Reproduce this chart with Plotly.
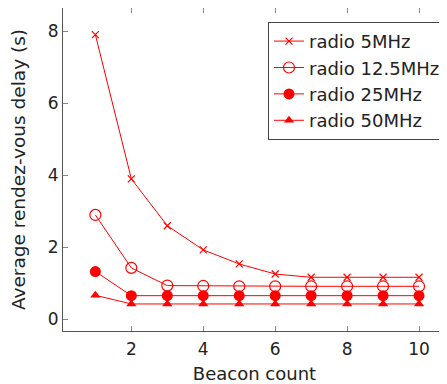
import plotly.graph_objects as go

beacon = [1, 2, 3, 4, 5, 6, 7, 8, 9, 10]
radio_5 = [7.9, 3.9, 2.6, 1.93, 1.54, 1.26, 1.17, 1.17, 1.17, 1.17]
radio_12_5 = [2.9, 1.43, 0.94, 0.93, 0.92, 0.92, 0.92, 0.92, 0.92, 0.92]
radio_25 = [1.33, 0.66, 0.66, 0.66, 0.66, 0.66, 0.66, 0.66, 0.66, 0.66]
radio_50 = [0.67, 0.43, 0.43, 0.43, 0.43, 0.43, 0.43, 0.43, 0.43, 0.43]
names = ["radio 5MHz", "radio 12.5MHz", "radio 25MHz", "radio 50MHz"]
x_ticks = [2, 4, 6, 8, 10]
y_ticks = [0, 2, 4, 6, 8]

RED = "#ff0000"
FONT = "DejaVu Sans"
TXT = "#222222"

fig = go.Figure()
series = [radio_5, radio_12_5, radio_25, radio_50]
markers = [
    dict(symbol="x-thin", size=7, line=dict(color=RED, width=1.2)),
    dict(symbol="circle-open", size=11, line=dict(color=RED, width=1.2)),
    dict(symbol="circle", size=11, color=RED),
    dict(symbol="triangle-up", size=9, color=RED),
]
for name, ys, mk in zip(names, series, markers):
    mk = dict(mk)
    mk.setdefault("color", RED)
    fig.add_trace(go.Scatter(x=beacon, y=ys, name=name, mode="lines+markers",
                             line=dict(color=RED, width=1), marker=mk))

axis_common = dict(showgrid=False, zeroline=False, showline=True, linecolor="#555555",
                   linewidth=1, mirror="ticks", ticks="inside", ticklen=5,
                   tickcolor="#888888", automargin=False,
                   tickfont=dict(size=17, color=TXT, family=FONT))
fig.update_xaxes(range=[0.1, 10.75], tickvals=x_ticks, ticklabelstandoff=3,
                 title=dict(text="Beacon count", font=dict(size=18, color=TXT, family=FONT), standoff=15),
                 **axis_common)
fig.update_yaxes(range=[-0.32, 8.64], tickvals=y_ticks,
                 title=dict(text="Average rendez-vous delay (s)", font=dict(size=18.5, color=TXT, family=FONT), standoff=18),
                 **axis_common)

# The page body adds an 8px offset; size and margins compensate so the plot area lands where the reference has it.
fig.update_layout(
    width=439, height=376,
    margin=dict(l=55, r=1, t=0, b=53),
    plot_bgcolor="white", paper_bgcolor="white",
    font=dict(family=FONT, size=17, color=TXT),
    legend=dict(x=1.0, y=0.957, xanchor="right", yanchor="top",
                bgcolor="white", bordercolor="#444444", borderwidth=1,
                font=dict(size=18, family=FONT, color=TXT), tracegroupgap=0, itemwidth=30),
    showlegend=True,
)
fig.write_html("out.html")
